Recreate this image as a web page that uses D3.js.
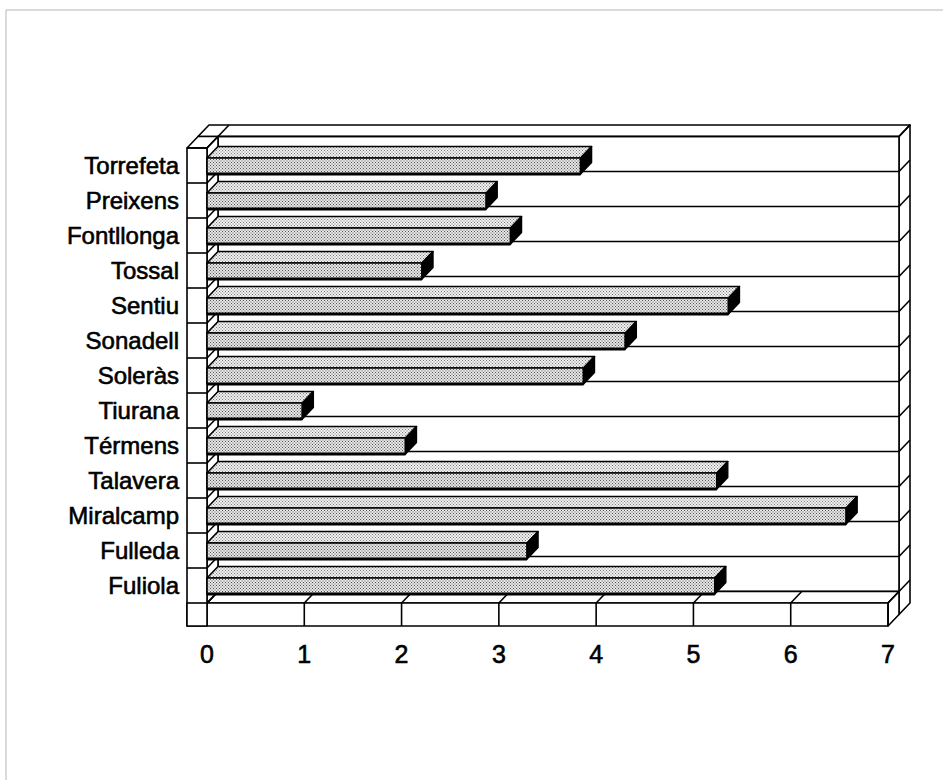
<!DOCTYPE html>
<html>
<head>
<meta charset="utf-8">
<script src="https://cdn.jsdelivr.net/npm/d3@7"></script>
<style>
  html, body { margin: 0; padding: 0; background: #fff; }
  svg { display: block; }
  text { font-family: "Liberation Sans", Arial, Helvetica, sans-serif; fill: #000; stroke: #000; stroke-width: 0.6px; }
</style>
</head>
<body>
<svg id="chart" width="943" height="780"></svg>
<script>
// ---- data (top to bottom as shown) ----
const categories = ["Torrefeta", "Preixens", "Fontllonga", "Tossal", "Sentiu", "Sonadell",
  "Soleràs", "Tiurana", "Térmens", "Talavera", "Miralcamp", "Fulleda", "Fuliola"];
const values = [3.84, 2.87, 3.12, 2.21, 5.36, 4.30, 3.87, 0.98, 2.04, 5.24, 6.57, 3.29, 5.22];
const xTicks = [0, 1, 2, 3, 4, 5, 6, 7];

const svg = d3.select("#chart");

// ---- layout ----
const wallW = 20;          // thickness of left wall / floor slab
const x = d3.scaleLinear().domain([0, 7]).range([207, 888]);
const y = d3.scaleBand().domain(categories).range([148, 603]).padding(0);
const xL = x(0) - wallW, x0 = x(0), xR = x(7);
const yTop = y.range()[0], yBot = y.range()[1], yFB = yBot + 23;
const DX = 22, DY = -23;   // full depth projection
const zB = 0.5;            // front plane of the back wall
const P = (px, py, z) => [px + z * DX, py + z * DY];
const poly = pts => "M" + pts.map(p => p.join(",")).join("L") + "Z";
const line = (a, b) => "M" + a.join(",") + "L" + b.join(",");

// ---- patterns (stipple) ----
const defs = svg.append("defs");
function stipple(id, bg, dot, size) {
  const p = defs.append("pattern").attr("id", id).attr("patternUnits", "userSpaceOnUse")
    .attr("width", size).attr("height", size);
  p.append("rect").attr("width", size).attr("height", size).attr("fill", bg);
  p.append("rect").attr("x", 0).attr("y", 0).attr("width", 1).attr("height", 1).attr("fill", dot);
  p.append("rect").attr("x", size / 2).attr("y", size / 2).attr("width", 1).attr("height", 1).attr("fill", dot);
}
stipple("front", "#e6e6e6", "#555", 3);
stipple("top", "#f0f0f0", "#7a7a7a", 3);

// ---- faint page frame ----
svg.append("path").attr("d", "M6,780L6,10L943,10").attr("fill", "none")
  .attr("stroke", "#b5b5b5").attr("stroke-width", 1);

const frame = svg.append("g").attr("fill", "#fff").attr("stroke", "#000")
  .attr("stroke-width", 1.6).attr("stroke-linejoin", "round");

// back wall slab (z from zB to 1)
frame.append("path").attr("d", poly([P(xL, yTop, zB), P(xR, yTop, zB), P(xR, yTop, 1), P(xL, yTop, 1)]));
frame.append("path").attr("d", poly([P(xR, yTop, zB), P(xR, yTop, 1), P(xR, yFB, 1), P(xR, yFB, zB)]));
frame.append("path").attr("d", poly([P(x0, yTop, zB), P(xR, yTop, zB), P(xR, yBot, zB), P(x0, yBot, zB)]));
frame.append("path").attr("d", line(P(x0, yTop, zB), P(x0, yTop, 1)));

// gridlines on back wall + right side marks
const bounds = categories.map(c => y(c)).concat([yBot]);
bounds.forEach(b => {
  frame.append("path").attr("d", line(P(x0, b, zB), P(xR, b, zB)));
  frame.append("path").attr("d", line(P(xR, b, zB), P(xR, b, 1)));
});

// floor slab (z 0..zB)
frame.append("path").attr("d", poly([P(x0, yBot, 0), P(xR, yBot, 0), P(xR, yBot, zB), P(x0, yBot, zB)]));
frame.append("path").attr("d", poly([P(xR, yBot, 0), P(xR, yBot, zB), P(xR, yFB, zB), P(xR, yFB, 0)]));
frame.append("path").attr("d", poly([[xL, yBot], [xR, yBot], [xR, yFB], [xL, yFB]]));
xTicks.forEach(t => {
  frame.append("path").attr("d", line([x(t), yBot], [x(t), yFB]));
  frame.append("path").attr("d", line(P(x(t), yBot, 0), P(x(t), yBot, zB)));
});

// left wall slab (z 0..zB)
frame.append("path").attr("d", poly([P(xL, yTop, 0), P(x0, yTop, 0), P(x0, yTop, zB), P(xL, yTop, zB)]));
frame.append("path").attr("d", poly([P(x0, yTop, 0), P(x0, yTop, zB), P(x0, yBot, zB), P(x0, yBot, 0)]));
frame.append("path").attr("d", poly([[xL, yTop], [x0, yTop], [x0, yFB], [xL, yFB]]));
bounds.forEach(b => {
  frame.append("path").attr("d", line([xL, b], [x0, b]));
  frame.append("path").attr("d", line(P(x0, b, 0), P(x0, b, zB)));
});

// ---- bars ----
const bars = svg.append("g").attr("stroke", "#000").attr("stroke-linejoin", "round");
categories.forEach((c, i) => {
  const yt = y(c) + 10, yb = y(c) + 26, xv = x(values[i]);
  bars.append("path").attr("d", poly([P(x0, yt, 0), P(xv, yt, 0), P(xv, yt, zB), P(x0, yt, zB)]))
    .attr("fill", "url(#top)").attr("stroke-width", 1.6);
  bars.append("path").attr("d", poly([[x0, yt], [xv, yt], [xv, yb], [x0, yb]]))
    .attr("fill", "url(#front)").attr("stroke-width", 1.6);
  bars.append("path").attr("d", line([x0, yb], [xv, yb])).attr("stroke-width", 2.8);
  bars.append("path").attr("d", poly([P(xv, yt, 0), P(xv, yt, zB), P(xv, yb, zB), P(xv, yb, 0)]))
    .attr("fill", "#000").attr("stroke-width", 1.4);
});

// ---- labels ----
svg.append("g").selectAll("text").data(categories).join("text")
  .attr("x", xL - 8).attr("y", d => y(d) + y.bandwidth() / 2 + 8.5)
  .attr("text-anchor", "end").attr("font-size", 24).text(d => d);

svg.append("g").selectAll("text").data(xTicks).join("text")
  .attr("x", d => x(d)).attr("y", 663)
  .attr("text-anchor", "middle").attr("font-size", 25).text(d => d);
</script>
</body>
</html>
